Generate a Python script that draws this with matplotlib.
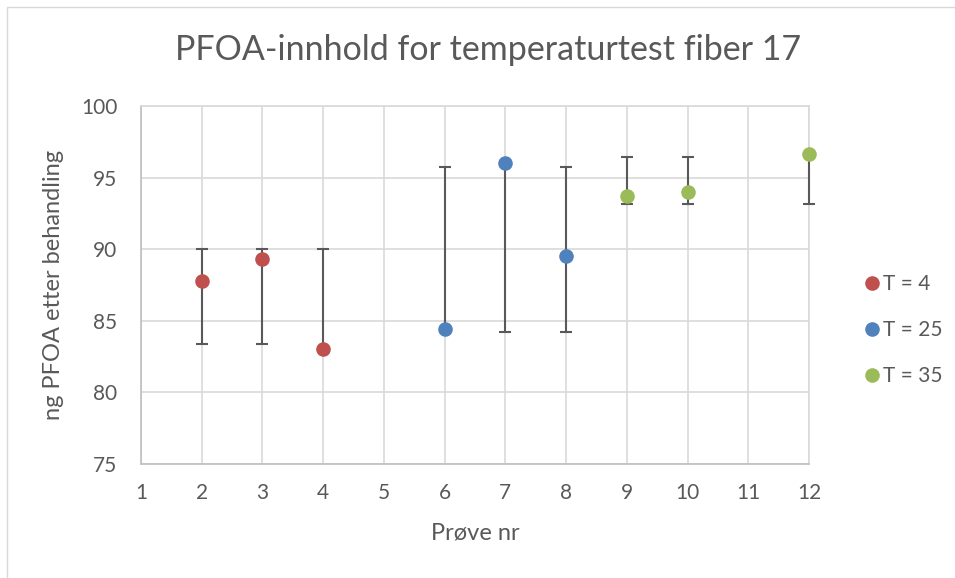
import matplotlib
matplotlib.use("Agg")
import matplotlib.pyplot as plt
from matplotlib.patches import Rectangle
import numpy as np

plt.rcParams['font.family'] = ['Lato', 'DejaVu Sans']

# Sample numbers and measured PFOA per temperature group
x_t4 = [2, 3, 4]
y_t4 = [87.8, 89.35, 83.0]
lo_t4 = [83.37, 83.37, 83.37]
hi_t4 = [90.0, 90.0, 90.0]

x_t25 = [6, 7, 8]
y_t25 = [84.42, 96.0, 89.53]
lo_t25 = [84.19, 84.19, 84.19]
hi_t25 = [95.77, 95.77, 95.77]

x_t35 = [9, 10, 12]
y_t35 = [93.72, 94.0, 96.67]
lo_t35 = [93.19, 93.19, 93.19]
hi_t35 = [96.42, 96.42, 96.42]

labels = ["T = 4", "T = 25", "T = 35"]
colors = ["#C0504D", "#4F81BD", "#9BBB59"]
xticks = list(range(1, 13))
yticks = [75, 80, 85, 90, 95, 100]

TEXT = "#595959"
GRID = "#D9D9D9"

fig = plt.figure(figsize=(9.55, 5.78), dpi=100)
fig.patches.append(Rectangle((7 / 955, -0.01), 1.0, 1 - 7 / 578 + 0.01,
                             transform=fig.transFigure, fill=False,
                             edgecolor="#D9D9D9", linewidth=1.0))
ax = fig.add_axes([141 / 955, 1 - 464 / 578, 668 / 955, 358 / 578])

groups = [(x_t4, y_t4, lo_t4, hi_t4), (x_t25, y_t25, lo_t25, hi_t25),
          (x_t35, y_t35, lo_t35, hi_t35)]
for (xs, ys, lo, hi), lab, col in zip(groups, labels, colors):
    ys_a = np.array(ys)
    # a range that ends inside the marker is drawn up to the marker only
    yerr = [np.clip(ys_a - np.array(lo), 0, None),
            np.clip(np.array(hi) - ys_a, 0, None)]
    ax.errorbar(xs, ys, yerr=yerr, fmt="none", ecolor="#595959",
                elinewidth=1.5, capsize=4.5, capthick=1.5, zorder=3,
                clip_on=False)
    ax.plot(xs, ys, linestyle="none", marker="o", markersize=10.5,
            color=col, markeredgewidth=0, label=lab, zorder=4,
            clip_on=False)

ax.set_xlim(1, 12)
ax.set_ylim(75, 100)
ax.set_xticks(xticks)
ax.set_yticks(yticks)
ax.grid(True, color=GRID, linewidth=1.2)
ax.set_axisbelow(True)
for s in ax.spines.values():
    s.set_color(GRID)
    s.set_linewidth(1.2)
ax.spines['left'].set_color("#BFBFBF")
ax.spines['bottom'].set_color("#BFBFBF")
ax.tick_params(length=0, labelsize=15, labelcolor=TEXT)
ax.tick_params(axis='y', pad=17)
ax.tick_params(axis='x', pad=14)

ax.set_xlabel("Prøve nr", fontsize=17, color=TEXT, labelpad=14)
ax.set_ylabel("ng PFOA etter behandling", fontsize=17, color=TEXT, labelpad=12)
fig.text(488 / 955, 1 - 50 / 578, "PFOA-innhold for temperaturtest fiber 17",
         fontsize=24.5, color=TEXT, ha="center", va="center")

leg = fig.legend(loc="center left", bbox_to_anchor=(848 / 955, 1 - 330 / 578),
                 bbox_transform=fig.transFigure, frameon=False,
                 fontsize=15, handletextpad=-0.2, labelspacing=1.25,
                 borderaxespad=0.0, handlelength=1.5)
for t in leg.get_texts():
    t.set_color(TEXT)

fig.savefig("out.png", dpi=100)
